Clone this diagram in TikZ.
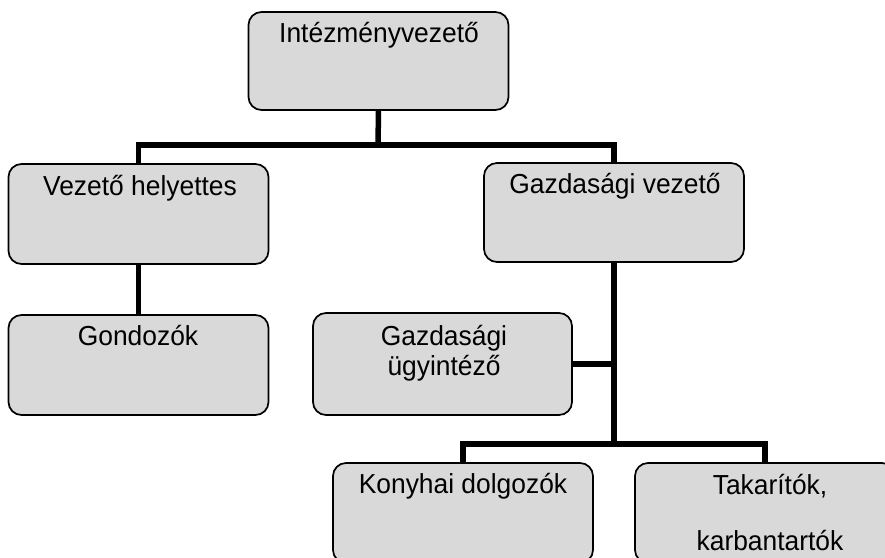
\documentclass[tikz,border=0pt]{standalone}
\usepackage{fontspec}
\setmainfont{Liberation Sans}[FakeStretch=0.96]
\begin{document}
\begin{tikzpicture}[x=1pt,y=-1pt,
  box/.style={draw=black, line width=1.7pt, rounded corners=13pt, fill=black!15,
    minimum width=260pt, minimum height=100pt, inner sep=0pt, outer sep=0pt},
  lbl/.style={anchor=base, inner sep=0pt, font=\fontsize{27.5}{32}\selectfont},
  conn/.style={line width=5.5pt, line join=miter, line cap=butt}]
\useasboundingbox (0,0) rectangle (885,557);
\clip (0,0) rectangle (885,557);
\fill[white] (0,0) rectangle (885,557);
% boxes
\node[box, minimum height=98pt] (b1) at (378.5,61) {};
\node[box] (b2) at (138.5,214) {};
\node[box, minimum height=99pt] (b3) at (614,212.5) {};
\node[box] (b4) at (138.5,365) {};
\node[box, minimum width=259pt, minimum height=102pt] (b5) at (442.5,364) {};
\node[box] (b6) at (463,513) {};
\node[box] (b7) at (765,513) {};
% labels
\node[lbl] (t1) at (379,42) {Intézményvezető};
\node[lbl] (t2) at (140,195) {Vezető helyettes};
\node[lbl] (t3) at (615,193) {Gazdasági vezető};
\node[lbl] (t4) at (138,345) {Gondozók};
\node[lbl] (t5a) at (444,345) {Gazdasági};
\node[lbl] (t5b) at (444,375) {ügyintéző};
\node[lbl] (t6) at (463,493) {Konyhai dolgozók};
\node[lbl] (t7a) at (770,494) {Takarítók,};
\node[lbl] (t7b) at (770,550) {karbantartók};
% connectors
\coordinate (j1) at (378,145);
\coordinate (j2) at (614,444);
\draw[conn] (b1.south) -- (j1);
\draw[conn] (b2.north) -- ++(0,-19) -| (b3.north);
\draw[conn] (b2.south) -- (b4.north);
\draw[conn] (b3.south) -- (j2);
\draw[conn] (b5.east) -- (b5.east -| j2);
\draw[conn] (b6.north) -- ++(0,-19) -| (b7.north);
\end{tikzpicture}
\end{document}
